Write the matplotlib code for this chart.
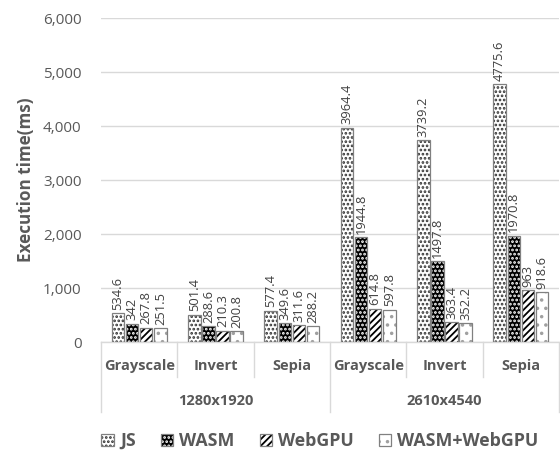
import matplotlib

matplotlib.use("Agg")
import matplotlib.pyplot as plt  # noqa: E402
from matplotlib.patches import Patch  # noqa: E402
from matplotlib.ticker import FuncFormatter  # noqa: E402

# Datos
groups = ["1280x1920", "2610x4540"]
filters = ["Grayscale", "Invert", "Sepia"]
series = ["JS", "WASM", "WebGPU", "WASM+WebGPU"]
js = [534.6, 501.4, 577.4, 3964.4, 3739.2, 4775.6]
wasm = [342, 288.6, 349.6, 1944.8, 1497.8, 1970.8]
webgpu = [267.8, 210.3, 311.6, 614.8, 363.4, 963]
wasm_webgpu = [251.5, 200.8, 288.2, 597.8, 352.2, 918.6]
yticks = [0, 1000, 2000, 3000, 4000, 5000, 6000]

# estilo de cada serie: (fondo, color de trama, trama)
styles = [
    ("white", "#303030", "...."),
    ("black", "white", "...."),
    ("white", "black", "/////"),
    ("white", "#a0a0a0", ".."),
]
EDGE = "#808080"
TXT = "#595959"

plt.rcParams["font.family"] = ["Open Sans", "DejaVu Sans"]
plt.rcParams["hatch.linewidth"] = 1.3

fig = plt.figure(figsize=(5.6, 4.5), dpi=100)
ax = fig.add_axes([101 / 560, 108 / 450, 458 / 560, 324 / 450])

n_cat = len(groups) * len(filters)
width = 0.163
step = 0.185
handles = []
for i, (vals, name, (fc, hc, hatch)) in enumerate(
    zip([js, wasm, webgpu, wasm_webgpu], series, styles)
):
    xs = [c + (i - 1.5) * step for c in range(n_cat)]
    ax.bar(xs, vals, width, color=fc, edgecolor=hc, hatch=hatch, linewidth=0, zorder=2)
    ax.bar(xs, vals, width, facecolor="none", edgecolor=EDGE, linewidth=0.9, zorder=3)
    for x, v in zip(xs, vals):
        ax.annotate(
            f"{v:g}", (x, v), xytext=(0, 2.5), textcoords="offset points",
            rotation=90, ha="center", va="bottom", fontsize=9.3, color="#404040",
        )
    handles.append((
        Patch(facecolor=fc, edgecolor=hc, hatch=hatch, linewidth=0),
        Patch(facecolor="none", edgecolor=EDGE, linewidth=0.9),
    ))

ax.set_xlim(-0.5, n_cat - 0.5)
ax.set_ylim(0, 6000)
ax.set_yticks(yticks)
ax.yaxis.set_major_formatter(FuncFormatter(lambda v, _: f"{v:,.0f}"))
ax.tick_params(axis="y", length=0, pad=14, labelsize=11, labelcolor=TXT)
ax.set_xticks([])
ax.grid(axis="y", color="#d9d9d9", linewidth=1, zorder=0)
for s in ax.spines.values():
    s.set_visible(False)
ax.set_ylabel("Execution time(ms)", fontsize=12.3, fontweight="bold", color=TXT, labelpad=6)

# eje de categorías en dos niveles
tr = ax.get_xaxis_transform()
ax.plot([-0.5, n_cat - 0.5], [0, 0], color="#d9d9d9", lw=1, transform=tr, clip_on=False)
for k in range(n_cat + 1):
    bottom = -0.216 if k % len(filters) == 0 else -0.108
    ax.plot([k - 0.5, k - 0.5], [0, bottom], color="#d9d9d9", lw=1, transform=tr, clip_on=False)
for c in range(n_cat):
    ax.text(c, -0.074, filters[c % len(filters)], transform=tr, ha="center", va="center",
            fontsize=10.5, fontweight="bold", color=TXT)
for g, name in enumerate(groups):
    ax.text(g * len(filters) + 1, -0.182, name, transform=tr, ha="center", va="center",
            fontsize=10.5, fontweight="bold", color=TXT)

fig.legend(
    handles, series, loc="center", bbox_to_anchor=(320 / 560, 9 / 450), ncol=4, frameon=False,
    handlelength=0.7, handleheight=0.7, handletextpad=0.35, columnspacing=1.4,
    prop={"size": 12.8, "weight": "bold"}, labelcolor=TXT,
)

fig.savefig("out.png", dpi=100)
